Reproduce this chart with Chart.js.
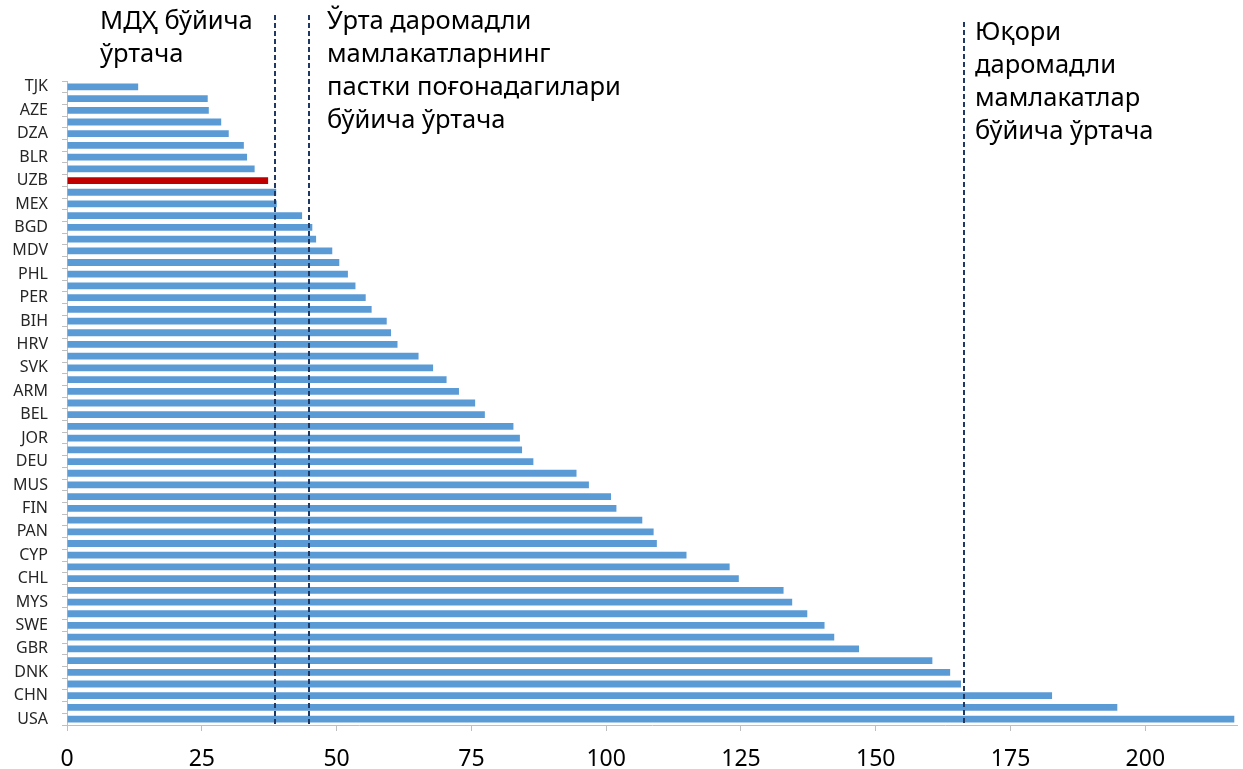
<!DOCTYPE html>
<html>
<head>
<meta charset="utf-8">
<script src="https://cdn.jsdelivr.net/npm/chart.js@4.4.1/dist/chart.umd.min.js"></script>
<style>
    html, body { margin: 0; padding: 0; background: #fff; }
</style>
</head>
<body>
<canvas id="chart" width="1243" height="769"></canvas>
<script>
// country codes (every other bar is unlabeled on the axis)
const countries = ['TJK', '', 'AZE', '', 'DZA', '', 'BLR', '', 'UZB', '', 'MEX', '', 'BGD', '', 'MDV', '', 'PHL', '', 'PER', '',
    'BIH', '', 'HRV', '', 'SVK', '', 'ARM', '', 'BEL', '', 'JOR', '', 'DEU', '', 'MUS', '', 'FIN', '', 'PAN', '',
    'CYP', '', 'CHL', '', 'MYS', '', 'SWE', '', 'GBR', '', 'DNK', '', 'CHN', '', 'USA'];

const values = [13.2, 26.1, 26.3, 28.6, 30.0, 32.8, 33.4, 34.8, 37.3, 38.8,
    38.9, 43.6, 45.5, 46.2, 49.2, 50.5, 52.1, 53.5, 55.4, 56.5,
    59.3, 60.1, 61.3, 65.2, 67.9, 70.4, 72.7, 75.7, 77.5, 82.8,
    84.0, 84.4, 86.5, 94.5, 96.8, 100.9, 101.9, 106.7, 108.8, 109.4,
    114.9, 122.9, 124.6, 132.9, 134.5, 137.3, 140.5, 142.3, 146.9, 160.5,
    163.8, 165.8, 182.7, 194.8, 216.5];

const highlight = 'UZB';

// averages shown as dashed vertical lines
const refValues = [38.6, 44.8, 166.3];
const refTexts = [
    ['МДҲ бўйича', 'ўртача'],
    ['Ўрта даромадли', 'мамлакатларнинг', 'пастки поғонадагилари', 'бўйича ўртача'],
    ['Юқори', 'даромадли', 'мамлакатлар', 'бўйича ўртача']
];

const xTicks = [0, 25, 50, 75, 100, 125, 150, 175, 200];

const barColors = countries.map(c => c === highlight ? '#c00000' : '#5b9bd5');

const refLines = {
    id: 'refLines',
    afterDatasetsDraw(chart) {
        const ctx = chart.ctx;
        const x = chart.scales.x;
        const bottom = chart.chartArea.bottom;
        const tops = [15, 15, 22];
        // text offsets relative to the line
        const textX = [-175, 18, 11];
        const textY = [22, 22, 33];

        ctx.save();
        refValues.forEach((v, i) => {
            const px = Math.round(x.getPixelForValue(v));
            ctx.beginPath();
            ctx.strokeStyle = '#1f3864';
            ctx.lineWidth = 2;
            ctx.setLineDash([5, 3]);
            ctx.moveTo(px, tops[i]);
            ctx.lineTo(px, bottom);
            ctx.stroke();

            ctx.setLineDash([]);
            ctx.fillStyle = '#000';
            ctx.font = '25.5px "Noto Sans"';
            ctx.textBaseline = 'middle';
            ctx.textAlign = 'left';
            refTexts[i].forEach((line, j) => {
                ctx.fillText(line, px + textX[i], textY[i] + j * 33);
            });
        });
        ctx.restore();
    }
};

new Chart(document.getElementById('chart'), {
    type: 'bar',
    data: {
        labels: countries,
        datasets: [{
            data: values,
            backgroundColor: barColors,
            borderWidth: 0,
            categoryPercentage: 1,
            barPercentage: 0.58
        }]
    },
    options: {
        indexAxis: 'y',
        responsive: false,
        animation: false,
        layout: { padding: { top: 81, right: 6, left: 0, bottom: 0 } },
        plugins: {
            legend: { display: false },
            tooltip: { enabled: false }
        },
        scales: {
            x: {
                min: 0,
                max: 217,
                afterBuildTicks: (scale) => {
                    scale.ticks = xTicks.map(v => ({ value: v }));
                },
                afterFit: (scale) => { scale.height = 44; },
                grid: { drawOnChartArea: false, tickLength: 6, color: '#bfbfbf' },
                border: { color: '#bfbfbf' },
                ticks: {
                    color: '#000',
                    font: { family: 'Noto Sans', size: 23 },
                    padding: 15
                }
            },
            y: {
                afterFit: (scale) => { scale.width = 67; },
                grid: { drawOnChartArea: false, tickLength: 5, color: '#bfbfbf', offset: true },
                border: { color: '#bfbfbf' },
                ticks: {
                    autoSkip: false,
                    color: '#262626',
                    font: { family: 'Noto Sans', size: 16 },
                    padding: 14
                }
            }
        }
    },
    plugins: [refLines]
});
</script>
</body>
</html>
